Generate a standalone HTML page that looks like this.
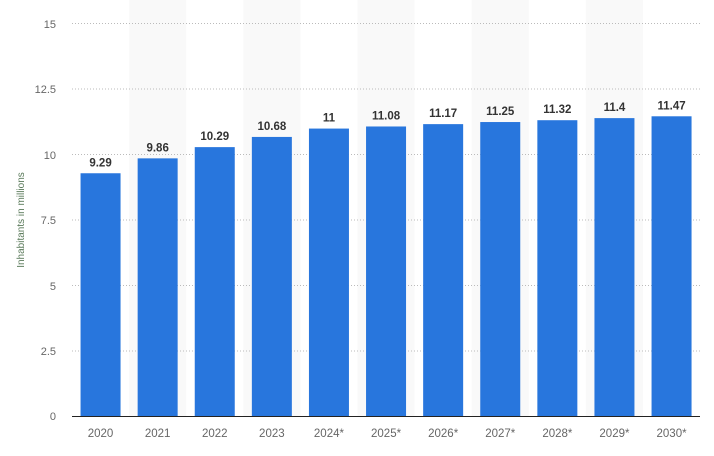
<!DOCTYPE html><html><head><style>body{margin:0;background:#fff}</style></head><body>
<svg width="714" height="451" xmlns="http://www.w3.org/2000/svg" font-family="Liberation Sans, sans-serif">
<g fill="#f9f9f9">
<rect x="129.1" y="0" width="57.1" height="416"/><rect x="243.3" y="0" width="57.1" height="416"/><rect x="357.5" y="0" width="57.1" height="416"/><rect x="471.7" y="0" width="57.1" height="416"/><rect x="585.9" y="0" width="57.1" height="416"/>
</g>
<g stroke="#bbb" stroke-dasharray="1,2" stroke-width="1">
<line x1="72" x2="700" y1="23.5" y2="23.5"/><line x1="72" x2="700" y1="89" y2="89"/><line x1="72" x2="700" y1="154.5" y2="154.5"/><line x1="72" x2="700" y1="220" y2="220"/><line x1="72" x2="700" y1="285.5" y2="285.5"/><line x1="72" x2="700" y1="351" y2="351"/>
</g>
<g fill="#666" font-size="11" text-anchor="end">
<text x="56" y="28">15</text><text x="56" y="93">12.5</text><text x="56" y="159">10</text><text x="56" y="224">7.5</text><text x="56" y="290">5</text><text x="56" y="355">2.5</text><text x="56" y="420">0</text>
</g>
<text transform="translate(24,220) rotate(-90)" text-anchor="middle" font-size="10" fill="#5a7a5a">Inhabitants in millions</text>
<g fill="#2876dd" id="bars"></g>
<g id="lbl" font-size="11.5" font-weight="bold" fill="#333" text-anchor="middle"></g>
<g id="xl" font-size="11.5" fill="#666" text-anchor="middle"></g>
<line x1="72" x2="700" y1="416.5" y2="416.5" stroke="#222" stroke-width="1"/>
<script>
var v=[9.29,9.86,10.29,10.68,11,11.08,11.17,11.25,11.32,11.4,11.47],n=["2020","2021","2022","2023","2024*","2025*","2026*","2027*","2028*","2029*","2030*"];
var ns="http://www.w3.org/2000/svg",b=document.getElementById("bars"),l=document.getElementById("lbl"),x=document.getElementById("xl");
v.forEach(function(d,i){var cx=72+57.1*i+28.55,y=416-d*26.13;
var r=document.createElementNS(ns,"rect");r.setAttribute("x",cx-20);r.setAttribute("y",y);r.setAttribute("width",40);r.setAttribute("height",416-y);b.appendChild(r);
var t=document.createElementNS(ns,"text");t.setAttribute("x",cx);t.setAttribute("y",y-7);t.textContent=String(d);l.appendChild(t);
var u=document.createElementNS(ns,"text");u.setAttribute("x",cx);u.setAttribute("y",437);u.textContent=n[i];x.appendChild(u);});
</script>
</svg></body></html>
